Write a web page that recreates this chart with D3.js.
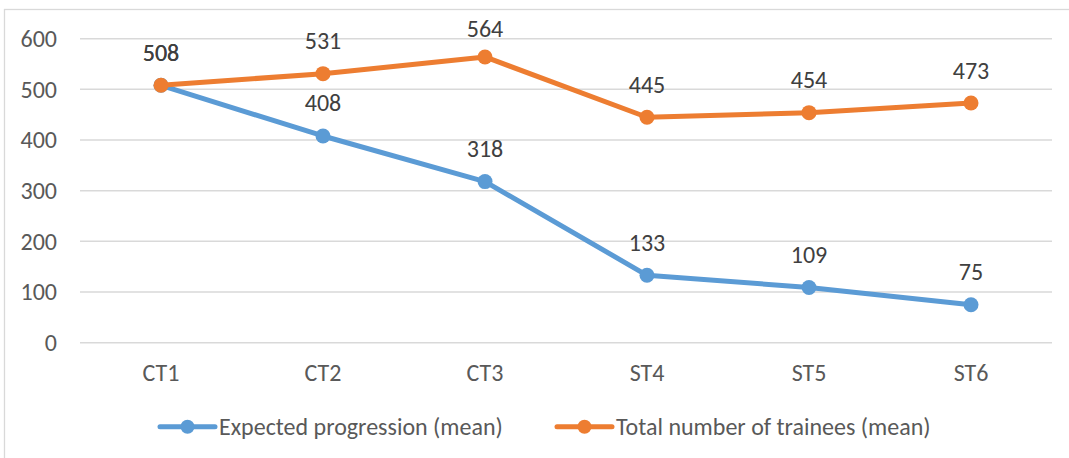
<!DOCTYPE html>
<html>
<head>
<meta charset="utf-8">
<script src="https://cdn.jsdelivr.net/npm/d3@7"></script>
<style>
  body { margin: 0; background: #fff; }
  svg { display: block; font-family: Calibri, Carlito, Lato, sans-serif; }
</style>
</head>
<body>
<div id="chart"></div>
<script>
// data
const categories = ['CT1', 'CT2', 'CT3', 'ST4', 'ST5', 'ST6'];
const expected = [508, 408, 318, 133, 109, 75];
const trainees = [508, 531, 564, 445, 454, 473];
const yTicks = [0, 100, 200, 300, 400, 500, 600];
const seriesNames = ['Expected progression (mean)', 'Total number of trainees (mean)'];
const seriesColors = ['#5B9BD5', '#ED7D31'];

const width = 1069, height = 458;
const fontSize = 24;

const svg = d3.select('#chart')
    .append('svg')
    .attr('width', width)
    .attr('height', height);

// chart border
svg.append('rect')
    .attr('x', 4.5)
    .attr('y', 9.5)
    .attr('width', 1100)
    .attr('height', 600)
    .attr('fill', 'none')
    .attr('stroke', '#d9d9d9')
    .attr('stroke-width', 1.3);

const x = d3.scalePoint()
    .domain(categories)
    .range([80, 1052])
    .padding(0.5);

const y = d3.scaleLinear()
    .domain([0, 600])
    .range([342.7, 38.7]);

// gridlines
svg.append('g')
    .selectAll('line')
    .data(yTicks)
    .join('line')
    .attr('x1', 80)
    .attr('x2', 1052)
    .attr('y1', d => y(d))
    .attr('y2', d => y(d))
    .attr('stroke', '#d9d9d9')
    .attr('stroke-width', 1.5);

// y axis labels
svg.append('g')
    .selectAll('text')
    .data(yTicks)
    .join('text')
    .attr('x', 57)
    .attr('y', d => y(d))
    .attr('dy', '0.35em')
    .attr('text-anchor', 'end')
    .attr('font-size', fontSize)
    .attr('fill', '#595959')
    .text(d => d);

// x axis labels
svg.append('g')
    .selectAll('text')
    .data(categories)
    .join('text')
    .attr('x', d => x(d))
    .attr('y', 381)
    .attr('text-anchor', 'middle')
    .attr('font-size', fontSize)
    .attr('fill', '#595959')
    .text(d => d);

const series = [expected, trainees].map((vals, i) => ({
    name: seriesNames[i],
    color: seriesColors[i],
    values: vals.map((v, j) => ({ cat: categories[j], v }))
}));

const line = d3.line()
    .x(d => x(d.cat))
    .y(d => y(d.v));

series.forEach(s => {
    const g = svg.append('g');
    g.append('path')
        .datum(s.values)
        .attr('d', line)
        .attr('fill', 'none')
        .attr('stroke', s.color)
        .attr('stroke-width', 5)
        .attr('stroke-linejoin', 'round')
        .attr('stroke-linecap', 'round');
    g.selectAll('circle')
        .data(s.values)
        .join('circle')
        .attr('cx', d => x(d.cat))
        .attr('cy', d => y(d.v))
        .attr('r', 7.5)
        .attr('fill', s.color);
});

// data labels
series.forEach(s => {
    svg.append('g')
        .selectAll('text')
        .data(s.values)
        .join('text')
        .attr('x', d => x(d.cat))
        .attr('y', d => Math.max(y(d.v) - 24.5, 36.7))
        .attr('text-anchor', 'middle')
        .attr('font-size', fontSize)
        .attr('fill', '#404040')
        .text(d => d.v);
});

// legend
const legendX = [160, 557];
series.forEach((s, i) => {
    const g = svg.append('g').attr('transform', `translate(${legendX[i]},426.7)`);
    g.append('line')
        .attr('x1', 0).attr('x2', 55)
        .attr('stroke', s.color)
        .attr('stroke-width', 5)
        .attr('stroke-linecap', 'round');
    g.append('circle')
        .attr('cx', 27.5)
        .attr('r', 7)
        .attr('fill', s.color);
    g.append('text')
        .attr('x', 59)
        .attr('dy', '0.35em')
        .attr('font-size', fontSize)
        .attr('fill', '#595959')
        .text(s.name);
});
</script>
</body>
</html>
